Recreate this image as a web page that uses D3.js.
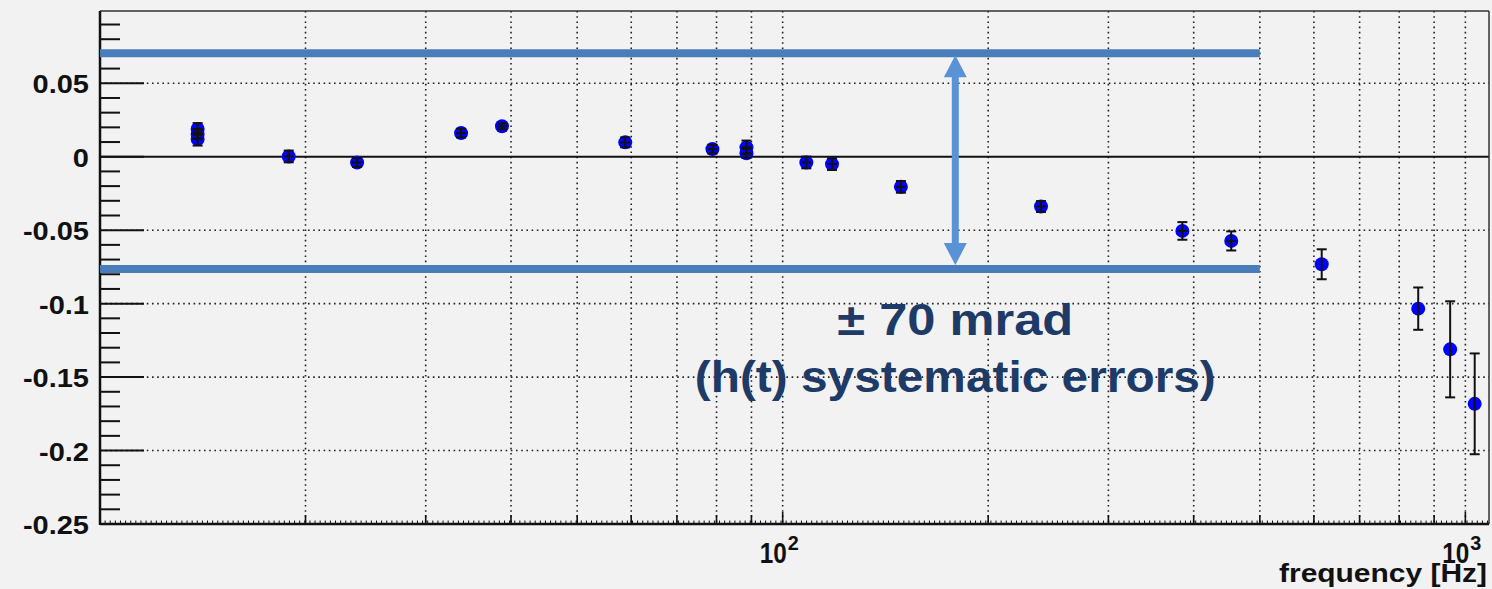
<!DOCTYPE html>
<html>
<head>
<meta charset="utf-8">
<script src="https://cdn.jsdelivr.net/npm/d3@7"></script>
<style>
  html, body { margin: 0; padding: 0; background: #f2f2f2; }
  svg { display: block; }
  text { font-family: "Liberation Sans", Arial, Helvetica, sans-serif; font-weight: bold; }
</style>
</head>
<body>
<script>
// measured phase residuals vs frequency
var freq  = [13.9, 13.9, 13.9, 18.9, 23.8, 33.8, 38.8, 58.8, 78.9, 88.5, 88.5, 108.3, 118.1, 149, 239, 385, 454, 616, 853, 950, 1032];
var phase = [0.0189, 0.0155, 0.0121, 0.0002, -0.0039, 0.0161, 0.0207, 0.0098, 0.0052, 0.0064, 0.0023, -0.0039, -0.005, -0.0205, -0.0339, -0.0505, -0.0573, -0.0732, -0.1034, -0.1311, -0.1682];
var phaseErr = [0.004, 0.003, 0.0045, 0.004, 0.003, 0.003, 0.002, 0.0034, 0.003, 0.0046, 0.003, 0.004, 0.004, 0.004, 0.0037, 0.006, 0.0065, 0.0102, 0.0144, 0.0327, 0.0343];

var yMajorTicks = [0.05, 0, -0.05, -0.1, -0.15, -0.2, -0.25];
var yTickLabels = ["0.05", "0", "-0.05", "-0.1", "-0.15", "-0.2", "-0.25"];
var xLabelTicks = [100, 1000];
var xLabelExp = ["2", "3"];

// systematic error band annotation
var bandLevels = [0.0704, -0.0765];
var bandEnd = 500;
var arrowFreq = 179;
var noteLines = ["\u00b1 70 mrad", "(h(t) systematic errors)"];

var width = 1492, height = 589;
var plotLeft = 100, plotRight = 1489, plotTop = 11, plotBottom = 524;

var svg = d3.select("body").append("svg")
    .attr("width", width)
    .attr("height", height);

var x = d3.scaleLog().domain([10, 1083]).range([plotLeft, plotRight]);
var y = d3.scaleLinear().domain([-0.25, 0.0992]).range([plotBottom, plotTop]);

// grid
var xGrid = [];
[10, 100].forEach(function (dec) {
    for (var k = 2; k <= 10; k++) xGrid.push(dec * k);
});

svg.append("g").selectAll("line")
    .data(xGrid)
    .enter().append("line")
    .attr("x1", function (d) { return x(d); })
    .attr("x2", function (d) { return x(d); })
    .attr("y1", plotTop)
    .attr("y2", plotBottom)
    .attr("stroke", "#222")
    .attr("stroke-width", 1.6)
    .attr("stroke-dasharray", "1.6,3.6");

svg.append("g").selectAll("line")
    .data(yMajorTicks.filter(function (d) { return d !== 0 && d !== -0.25; }))
    .enter().append("line")
    .attr("x1", plotLeft)
    .attr("x2", plotRight)
    .attr("y1", function (d) { return y(d); })
    .attr("y2", function (d) { return y(d); })
    .attr("stroke", "#222")
    .attr("stroke-width", 1.6)
    .attr("stroke-dasharray", "1.6,3.6");

// zero line
svg.append("line")
    .attr("x1", plotLeft).attr("x2", plotRight)
    .attr("y1", y(0)).attr("y2", y(0))
    .attr("stroke", "#111")
    .attr("stroke-width", 2);

// y ticks
var yMinor = d3.range(-25, 10).map(function (i) { return i / 100; });
svg.append("g").selectAll("line")
    .data(yMinor)
    .enter().append("line")
    .attr("x1", plotLeft)
    .attr("x2", function (d) {
        return Math.abs(Math.round(d * 100) % 5) === 0 ? plotLeft + 44 : plotLeft + 20;
    })
    .attr("y1", function (d) { return y(d); })
    .attr("y2", function (d) { return y(d); })
    .attr("stroke", "#111")
    .attr("stroke-width", 2);

var yLabels = svg.append("g").selectAll("text")
    .data(yMajorTicks)
    .enter().append("text")
    .attr("x", 89)
    .attr("y", function (d) { return y(d) + 10; })
    .attr("text-anchor", "end")
    .attr("font-size", 25)
    .attr("fill", "#111")
    .text(function (d, i) { return yTickLabels[i]; });
yLabels.each(function () {
    var len = this.getComputedTextLength();
    d3.select(this).attr("textLength", len * 1.16).attr("lengthAdjust", "spacingAndGlyphs");
});

// x ticks: tiny, secondary, decade
var tiny = d3.range(1, Math.log10(1083), 0.0075).map(function (v) { return Math.pow(10, v); });
svg.append("g").selectAll("line")
    .data(tiny)
    .enter().append("line")
    .attr("x1", function (d) { return x(d); })
    .attr("x2", function (d) { return x(d); })
    .attr("y1", plotBottom)
    .attr("y2", plotBottom - 3.5)
    .attr("stroke", "#111")
    .attr("stroke-width", 1);

svg.append("g").selectAll("line")
    .data(xGrid)
    .enter().append("line")
    .attr("x1", function (d) { return x(d); })
    .attr("x2", function (d) { return x(d); })
    .attr("y1", plotBottom)
    .attr("y2", function (d) { return xLabelTicks.indexOf(d) >= 0 ? plotBottom - 12 : plotBottom - 9; })
    .attr("stroke", "#111")
    .attr("stroke-width", 1.6);

var xLab = svg.append("g").selectAll("g")
    .data(xLabelTicks)
    .enter().append("g");
xLab.append("text")
    .attr("x", function (d) { return x(d) - 23; })
    .attr("y", 563)
    .attr("font-size", 29)
    .attr("textLength", 27)
    .attr("lengthAdjust", "spacingAndGlyphs")
    .attr("fill", "#111")
    .text("10");
xLab.append("text")
    .attr("x", function (d) { return x(d) + 5; })
    .attr("y", 550)
    .attr("font-size", 20)
    .attr("textLength", 11)
    .attr("lengthAdjust", "spacingAndGlyphs")
    .attr("fill", "#111")
    .text(function (d, i) { return xLabelExp[i]; });

svg.append("text")
    .attr("x", 1487)
    .attr("y", 582)
    .attr("text-anchor", "end")
    .attr("font-size", 26)
    .attr("textLength", 208)
    .attr("lengthAdjust", "spacingAndGlyphs")
    .attr("fill", "#111")
    .text("frequency [Hz]");

// frame
svg.append("line").attr("x1", plotLeft).attr("x2", plotRight).attr("y1", plotTop).attr("y2", plotTop)
    .attr("stroke", "#333").attr("stroke-width", 1.5);
svg.append("line").attr("x1", plotRight).attr("x2", plotRight).attr("y1", plotTop).attr("y2", plotBottom)
    .attr("stroke", "#333").attr("stroke-width", 1.5);
svg.append("line").attr("x1", plotLeft).attr("x2", plotLeft).attr("y1", plotTop).attr("y2", plotBottom + 1)
    .attr("stroke", "#111").attr("stroke-width", 2.5);
svg.append("line").attr("x1", plotLeft).attr("x2", plotRight).attr("y1", plotBottom).attr("y2", plotBottom)
    .attr("stroke", "#111").attr("stroke-width", 2.5);

// data points
var pts = freq.map(function (f, i) { return { f: f, v: phase[i], e: phaseErr[i] }; });

svg.append("g").selectAll("circle")
    .data(pts)
    .enter().append("circle")
    .attr("cx", function (d) { return x(d.f); })
    .attr("cy", function (d) { return y(d.v); })
    .attr("r", 7)
    .attr("fill", "#0000ff");

var bars = svg.append("g")
    .attr("stroke", "#111")
    .attr("stroke-width", 2)
    .selectAll("g")
    .data(pts)
    .enter().append("g");
bars.append("line")
    .attr("x1", function (d) { return x(d.f); })
    .attr("x2", function (d) { return x(d.f); })
    .attr("y1", function (d) { return y(d.v + d.e); })
    .attr("y2", function (d) { return y(d.v - d.e); });
bars.append("line")
    .attr("x1", function (d) { return x(d.f) - 5; })
    .attr("x2", function (d) { return x(d.f) + 5; })
    .attr("y1", function (d) { return y(d.v + d.e); })
    .attr("y2", function (d) { return y(d.v + d.e); });
bars.append("line")
    .attr("x1", function (d) { return x(d.f) - 5; })
    .attr("x2", function (d) { return x(d.f) + 5; })
    .attr("y1", function (d) { return y(d.v - d.e); })
    .attr("y2", function (d) { return y(d.v - d.e); });
bars.filter(function (d) { return d.e < 0.008; }).append("line")
    .attr("x1", function (d) { return x(d.f) - 5; })
    .attr("x2", function (d) { return x(d.f) + 5; })
    .attr("y1", function (d) { return y(d.v); })
    .attr("y2", function (d) { return y(d.v); });

// band lines
svg.append("g").selectAll("line")
    .data(bandLevels)
    .enter().append("line")
    .attr("x1", plotLeft)
    .attr("x2", x(bandEnd))
    .attr("y1", function (d) { return y(d); })
    .attr("y2", function (d) { return y(d); })
    .attr("stroke", "#4a7ebb")
    .attr("stroke-width", 8);

// double arrow
var ax = x(arrowFreq);
var yTop = y(bandLevels[0]) + 2;
var yBot = y(bandLevels[1]) - 4;
var head = 22, halfW = 11.5;
svg.append("line")
    .attr("x1", ax).attr("x2", ax)
    .attr("y1", yTop + head - 1).attr("y2", yBot - head + 1)
    .attr("stroke", "#5a92d6")
    .attr("stroke-width", 7);
svg.append("path")
    .attr("d", "M" + ax + "," + yTop + "L" + (ax + halfW) + "," + (yTop + head) + "L" + (ax - halfW) + "," + (yTop + head) + "Z"
        + "M" + ax + "," + yBot + "L" + (ax + halfW) + "," + (yBot - head) + "L" + (ax - halfW) + "," + (yBot - head) + "Z")
    .attr("fill", "#5a92d6");

// annotation text
svg.append("text")
    .attr("x", ax)
    .attr("y", 335)
    .attr("text-anchor", "middle")
    .attr("font-size", 45)
    .attr("textLength", 236)
    .attr("lengthAdjust", "spacingAndGlyphs")
    .attr("fill", "#1d3b66")
    .text(noteLines[0]);
svg.append("text")
    .attr("x", ax)
    .attr("y", 392)
    .attr("text-anchor", "middle")
    .attr("font-size", 45)
    .attr("textLength", 521)
    .attr("lengthAdjust", "spacingAndGlyphs")
    .attr("fill", "#1d3b66")
    .text(noteLines[1]);
</script>
</body>
</html>
